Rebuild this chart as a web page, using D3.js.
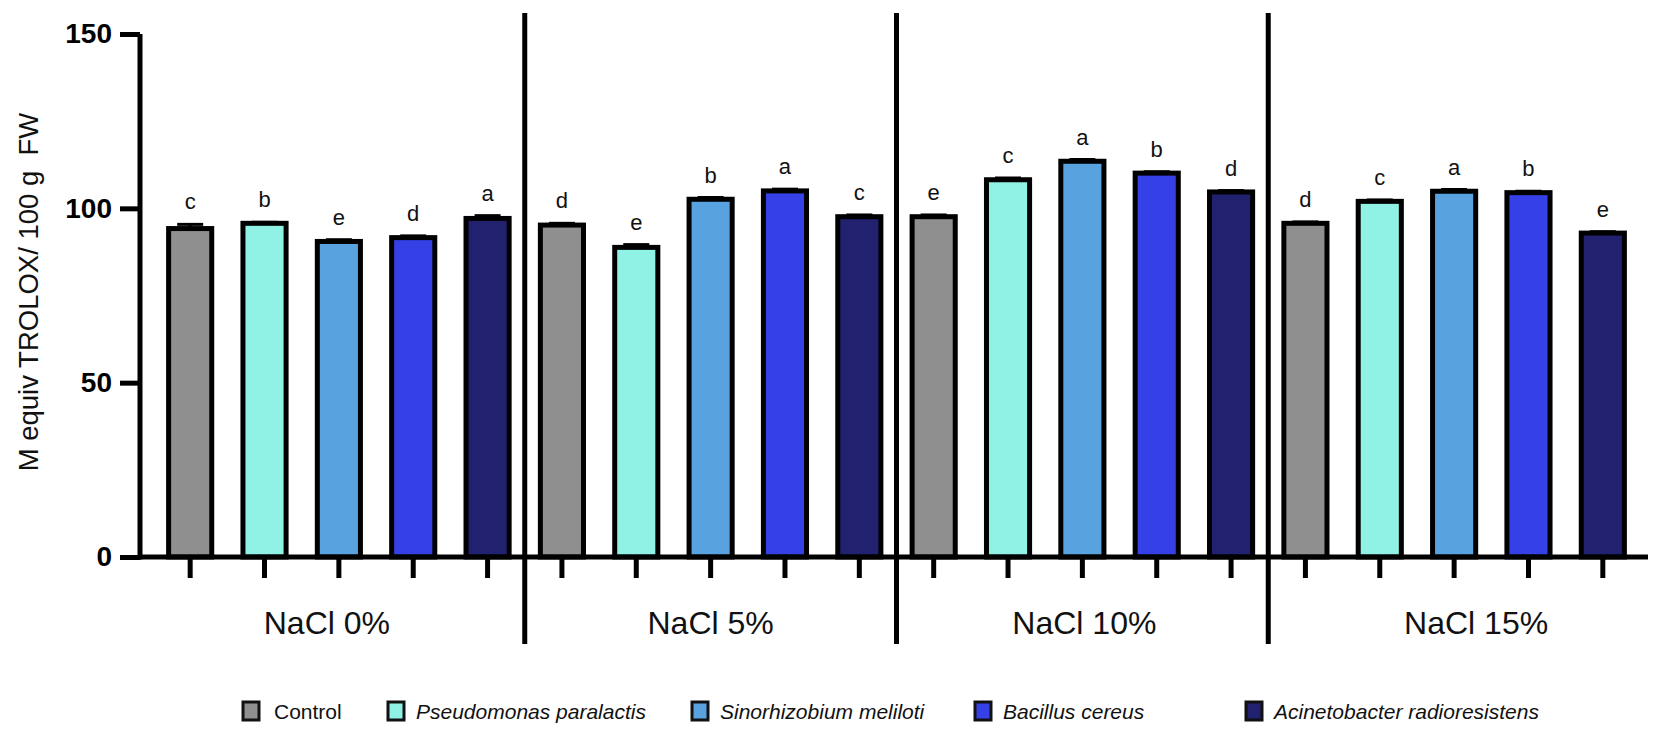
<!DOCTYPE html>
<html>
<head>
<meta charset="utf-8">
<script src="https://cdn.jsdelivr.net/npm/d3@7"></script>
<style>
  body { margin: 0; background: #fff; }
  svg { display: block; }
</style>
</head>
<body>
<div id="chart"></div>
<script>
// data
const groups = ['NaCl 0%', 'NaCl 5%', 'NaCl 10%', 'NaCl 15%'];
const treatments = ['Control', 'Pseudomonas paralactis', 'Sinorhizobium meliloti', 'Bacillus cereus', 'Acinetobacter radioresistens'];
const colors = ['#8f8f8f', '#8ff2e4', '#58a2e0', '#3540e6', '#21216f'];

// values per group, in treatment order
const means = [
  [94.2, 95.7, 90.5, 91.6, 97.1],
  [95.2, 88.8, 102.6, 105.0, 97.6],
  [97.6, 108.2, 113.5, 110.1, 104.7],
  [95.7, 102.0, 104.9, 104.5, 92.9]
];
const errors = [
  [1.2, 0.3, 0.5, 0.5, 0.8],
  [0.5, 0.8, 0.5, 0.5, 0.5],
  [0.5, 0.5, 0.5, 0.4, 0.4],
  [0.4, 0.4, 0.5, 0.4, 0.4]
];
const letters = [
  ['c', 'b', 'e', 'd', 'a'],
  ['d', 'e', 'b', 'a', 'c'],
  ['e', 'c', 'a', 'b', 'd'],
  ['d', 'c', 'a', 'b', 'e']
];
const yTicks = [0, 50, 100, 150];

const W = 1654, H = 736;
const font = "'Liberation Sans', Arial, Helvetica, sans-serif";

const svg = d3.select('#chart')
  .append('svg')
  .attr('width', W)
  .attr('height', H);

// flatten into one row per bar
const rows = [];
groups.forEach((g, gi) => {
  treatments.forEach((t, ti) => {
    rows.push({
      key: g + '|' + t,
      group: g,
      gi: gi,
      ti: ti,
      value: means[gi][ti],
      err: errors[gi][ti],
      letter: letters[gi][ti]
    });
  });
});

const x = d3.scaleBand()
  .domain(rows.map(d => d.key))
  .range([153, 1640])
  .padding(0);

const y = d3.scaleLinear()
  .domain([0, 150])
  .range([557, 34]);

const barW = x.bandwidth() * 0.58;
const cx = d => x(d.key) + x.bandwidth() / 2;

// bars
svg.append('g')
  .selectAll('rect')
  .data(rows)
  .join('rect')
  .attr('x', d => cx(d) - barW / 2)
  .attr('y', d => y(d.value))
  .attr('width', barW)
  .attr('height', d => y(0) - y(d.value))
  .attr('fill', d => colors[d.ti])
  .attr('stroke', '#000')
  .attr('stroke-width', 5);

// error bars (upper only)
const eb = svg.append('g')
  .attr('stroke', '#000')
  .attr('stroke-width', 3);

eb.selectAll('line.v')
  .data(rows)
  .join('line')
  .attr('class', 'v')
  .attr('x1', cx)
  .attr('x2', cx)
  .attr('y1', d => y(d.value))
  .attr('y2', d => y(d.value + d.err));

eb.selectAll('line.cap')
  .data(rows)
  .join('line')
  .attr('class', 'cap')
  .attr('x1', d => cx(d) - 13)
  .attr('x2', d => cx(d) + 13)
  .attr('y1', d => y(d.value + d.err))
  .attr('y2', d => y(d.value + d.err));

// significance letters
svg.append('g')
  .selectAll('text')
  .data(rows)
  .join('text')
  .attr('x', cx)
  .attr('y', d => y(d.value + d.err) - 15)
  .attr('text-anchor', 'middle')
  .attr('font-family', font)
  .attr('font-size', '22px')
  .attr('fill', '#111')
  .text(d => d.letter);

// y axis
const yAxis = svg.append('g')
  .attr('transform', 'translate(140,0)')
  .call(d3.axisLeft(y).tickValues(yTicks).tickSize(20).tickPadding(8).tickSizeOuter(0));

yAxis.select('.domain')
  .attr('stroke', '#000')
  .attr('stroke-width', 5)
  .attr('d', `M0,${y(150)}V${y(0) + 2.5}`);

yAxis.selectAll('.tick line')
  .attr('stroke-width', 5);

yAxis.selectAll('.tick text')
  .attr('font-family', font)
  .attr('font-size', '28px')
  .attr('font-weight', 'bold')
  .attr('fill', '#000');

// x axis with one tick per bar
const xAxis = svg.append('g')
  .attr('transform', `translate(0,${y(0)})`)
  .call(d3.axisBottom(x).tickSize(21).tickFormat('').tickSizeOuter(0));

xAxis.select('.domain')
  .attr('stroke', '#000')
  .attr('stroke-width', 5)
  .attr('d', 'M138,0H1648');

xAxis.selectAll('.tick line')
  .attr('stroke-width', 5);

// group separators
const bounds = groups.slice(1).map((g, i) => x(g + '|' + treatments[0]));
svg.append('g')
  .selectAll('line')
  .data(bounds)
  .join('line')
  .attr('x1', d => d)
  .attr('x2', d => d)
  .attr('y1', 13)
  .attr('y2', 644)
  .attr('stroke', '#000')
  .attr('stroke-width', 5);

// group labels (the original places them slightly off-centre)
const labelShift = [-12, 0, 2, 22];
svg.append('g')
  .selectAll('text')
  .data(groups)
  .join('text')
  .attr('x', (g, gi) => {
    const a = x(g + '|' + treatments[0]);
    const b = x(g + '|' + treatments[treatments.length - 1]) + x.bandwidth();
    return (a + b) / 2 + labelShift[gi];
  })
  .attr('y', 634)
  .attr('text-anchor', 'middle')
  .attr('font-family', font)
  .attr('font-size', '32px')
  .attr('fill', '#111')
  .text(d => d);

// y axis title
svg.append('text')
  .attr('transform', 'translate(38,292) rotate(-90)')
  .attr('text-anchor', 'middle')
  .attr('font-family', font)
  .attr('font-size', '27.5px')
  .attr('fill', '#111')
  .attr('xml:space', 'preserve')
  .style('white-space', 'pre')
  .text('M equiv TROLOX/ 100 g  FW');

// legend
const legendX = [243, 388, 692, 975, 1246];
const legend = svg.append('g');
treatments.forEach((t, i) => {
  const g = legend.append('g')
    .attr('transform', `translate(${legendX[i]},702)`);
  g.append('rect')
    .attr('width', 16)
    .attr('height', 18)
    .attr('fill', colors[i])
    .attr('stroke', '#111')
    .attr('stroke-width', 3);
  g.append('text')
    .attr('x', i === 0 ? 31 : 28)
    .attr('y', 17)
    .attr('font-family', font)
    .attr('font-size', '21px')
    .attr('font-style', i === 0 ? 'normal' : 'italic')
    .attr('fill', '#111')
    .text(t);
});
</script>
</body>
</html>
